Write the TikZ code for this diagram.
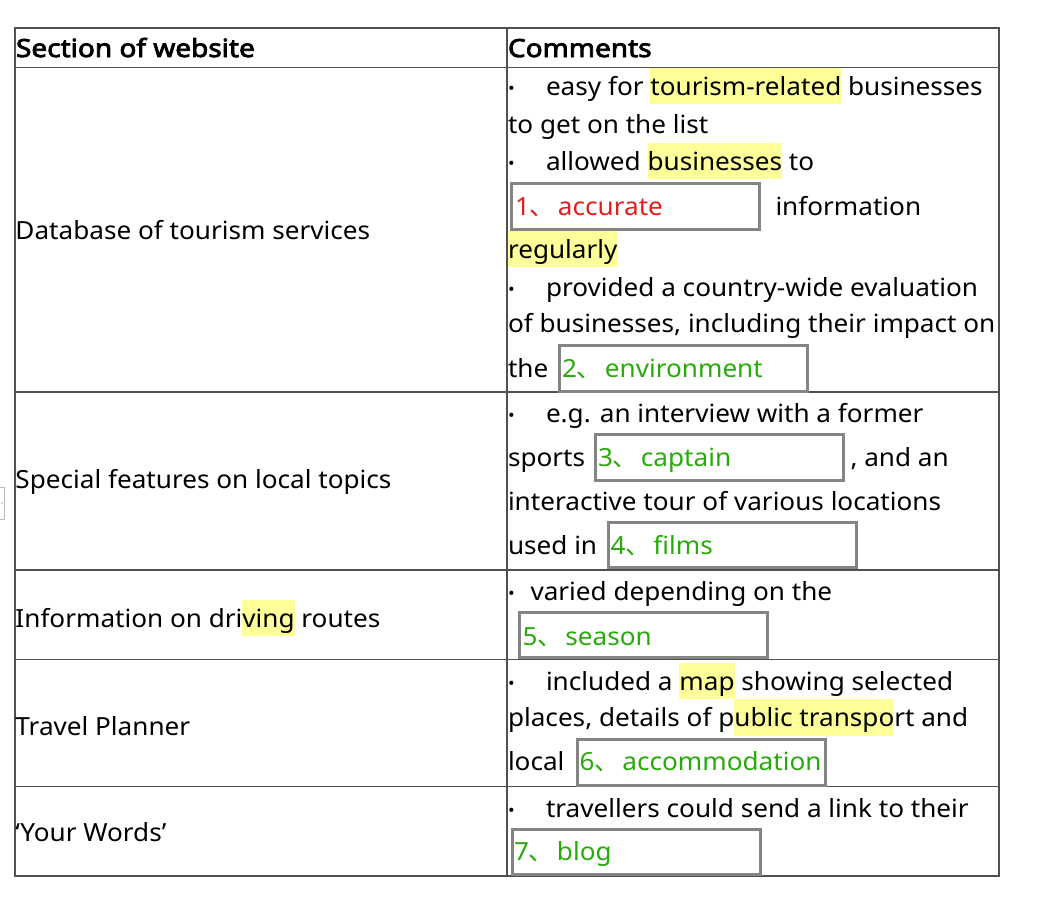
\documentclass[tikz,border=0pt]{standalone}
\usepackage{fontspec}
\setmainfont{Noto Sans}[FakeStretch=1.045]
\newfontfamily\hdf{Noto Sans}[FakeStretch=1.12,FakeBold=3.2]
\newfontfamily\cjkf{Noto Sans CJK SC}
\definecolor{hly}{RGB}{255,255,153}
\definecolor{gridc}{RGB}{80,80,80}
\definecolor{boxc}{RGB}{132,132,132}
\definecolor{ansred}{RGB}{228,30,30}
\definecolor{ansgreen}{RGB}{40,170,10}
\newcommand\hlt[1]{{\setlength{\fboxsep}{0pt}\colorbox{hly}{\rule[-9pt]{0pt}{36.5pt}#1}}}
\newcommand\dun{{\cjkf 、}\kern3pt}
\begin{document}
\begin{tikzpicture}[x=1pt,y=-1pt,
  txt/.style={anchor=base west,inner sep=0pt,outer sep=0pt,font=\fontsize{25}{28}\selectfont},
  head/.style={txt,font=\fontsize{25}{28}\hdf},
  bul/.style={anchor=base west,inner sep=0pt,outer sep=0pt,font=\fontsize{17}{18}\selectfont},
  ansbox/.style={draw=boxc,line width=3pt,anchor=north west,minimum width=248pt,minimum height=45.5pt,inner sep=0pt},
  red ans/.style={txt,text=ansred},
  green ans/.style={txt,text=ansgreen},
  grid line/.style={draw=gridc,line width=1.3pt}]
\useasboundingbox (0,0) rectangle (1042,906);
% left widget
\draw[gray!55,line width=1pt] (-8,487) rectangle (4.5,519);
\fill[gray!70] (2,503) circle (0.8);
% table grid
\draw[grid line] (15,28) rectangle (999,876);
\draw[grid line] (507,28) -- (507,876);
\foreach \yy in {67.5,392,570,659.5,786.7} \draw[grid line] (15,\yy) -- (999,\yy);
% header
\node[head] (h1) at (16,57) {Section of website};
\node[head] (h2) at (508,57) {Comments};
% left column
\node[txt] (l1) at (15.5,239) {Database of tourism services};
\node[txt] (l2) at (15.5,488.3) {Special features on local topics};
\node[txt] (l3) at (15.5,627) {Information on dri\hlt{ving} routes};
\node[txt] (l4) at (15.5,735) {Travel Planner};
\node[txt] (l5) at (15.5,841.7) {‘Your Words’};
% row 1
\node[bul] (r1b1) at (508,94) {•};
\node[txt] (r1t1) at (546,95) {easy for \hlt{tourism-related} businesses};
\node[txt] (r1t2) at (508,133.3) {to get on the list};
\node[bul] (r1b2) at (508,169) {•};
\node[txt] (r1t3) at (546,170) {allowed \hlt{businesses} to};
\node[ansbox] (box1) at (509.8,182.2) {};
\node[red ans] (a1) at (515,215) {1\dun accurate};
\node[txt] (r1t4) at (775.5,215) {information};
\node[txt] (r1t5) at (508,258) {\hlt{regularly}};
\node[bul] (r1b3) at (508,295) {•};
\node[txt] (r1t6) at (546,296) {provided a country-wide evaluation};
\node[txt] (r1t7) at (508,332.7) {of businesses, including their impact on};
\node[txt] (r1t8) at (508,377.3) {the};
\node[ansbox] (box2) at (558.2,344.2) {};
\node[green ans] (a2) at (562,377.3) {2\dun environment};
% row 2
\node[bul] (r2b1) at (508,421.7) {•};
\node[txt] (r2t1) at (546,422.7) {e.g. an interview with a former};
\node[txt] (r2t2) at (508,466.7) {sports};
\node[ansbox] (box3) at (594.2,433.2) {};
\node[green ans] (a3) at (598,466.7) {3\dun captain};
\node[txt] (r2t3) at (850.5,466.7) {, and an};
\node[txt] (r2t4) at (508,510) {interactive tour of various locations};
\node[txt] (r2t5) at (508,554) {used in};
\node[ansbox] (box4) at (607.2,520.8) {};
\node[green ans] (a4) at (610.5,554) {4\dun films};
% row 3
\node[bul] (r3b1) at (508,599.7) {•};
\node[txt] (r3t1) at (530.5,600.7) {varied depending on the};
\node[ansbox] (box5) at (518.2,610.8) {};
\node[green ans] (a5) at (522.5,645) {5\dun season};
% row 4
\node[bul] (r4b1) at (508,689) {•};
\node[txt] (r4t1) at (546,690) {included a \hlt{map} showing selected};
\node[txt] (r4t2) at (508,726.7) {places, details of p\hlt{ublic transpo}rt and};
\node[txt] (r4t3) at (508,770.7) {local};
\begin{scope}
\clip (577,739.7) rectangle (821,782);
\node[green ans] (a6) at (579.5,770.7) {6\dun accommodation};
\end{scope}
\node[ansbox] (box6) at (575.5,738.2) {};
% row 5
\node[bul] (r5b1) at (508,816.3) {•};
\node[txt] (r5t1) at (546,817.3) {travellers could send a link to their};
\node[ansbox] (box7) at (510.8,827.5) {};
\node[green ans] (a7) at (514,860.7) {7\dun blog};
\end{tikzpicture}
\end{document}
